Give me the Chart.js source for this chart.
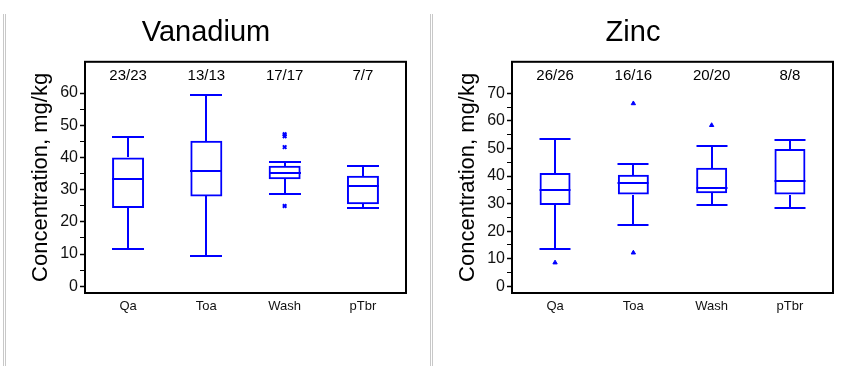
<!DOCTYPE html>
<html>
<head>
<meta charset="utf-8">
<script src="https://cdn.jsdelivr.net/npm/chart.js@4.4.1/dist/chart.umd.min.js"></script>
<style>
  html, body { margin: 0; padding: 0; background: #fff; }
  #page { position: relative; width: 855px; height: 369px; overflow: hidden; }
  .panel { position: absolute; top: 0; width: 422px; height: 369px; }
  .panel canvas { width: 422px; height: 369px; }
  .rule { position: absolute; top: 14px; height: 352px; width: 1px; background: #c8c8c8; z-index: 2; }
</style>
</head>
<body>
<div id="page">
  <div class="rule" style="left:3px"></div>
  <div class="rule" style="left:5px"></div>
  <div class="rule" style="left:430px"></div>
  <div class="rule" style="left:432px"></div>
  <div class="panel" style="left:6px"><canvas id="vanadium" width="422" height="369"></canvas></div>
  <div class="panel" style="left:433px"><canvas id="zinc" width="422" height="369"></canvas></div>
</div>
<script>
// Sample groups shared by both panels
const categories = ['Qa', 'Toa', 'Wash', 'pTbr'];

// Vanadium (mg/kg): detects / samples and box statistics
const vanadiumCounts = ['23/23', '13/13', '17/17', '7/7'];
const vanadiumLowerWhisker = [11.6, 9.4, 28.5, 24.4];
const vanadiumQ1 = [24.3, 27.9, 33.2, 25.5];
const vanadiumMedian = [33.2, 35.8, 35.3, 31.1];
const vanadiumQ3 = [40.0, 45.2, 37.4, 34.3];
const vanadiumUpperWhisker = [46.4, 59.5, 38.5, 37.4];
const vanadiumOutlierGroups = ['Wash', 'Wash', 'Wash', 'Wash'];
const vanadiumOutlierValues = [47.2, 46.6, 43.2, 24.9];
const vanadiumTickValues = [0, 5, 10, 15, 20, 25, 30, 35, 40, 45, 50, 55, 60];

// Zinc (mg/kg)
const zincCounts = ['26/26', '16/16', '20/20', '8/8'];
const zincLowerWhisker = [13.4, 22.2, 29.5, 28.4];
const zincQ1 = [29.5, 33.3, 33.8, 33.3];
const zincMedian = [35.1, 37.5, 35.7, 38.1];
const zincQ3 = [41.1, 40.5, 43.0, 49.8];
const zincUpperWhisker = [53.4, 44.2, 51.0, 53.0];
const zincOutlierGroups = ['Qa', 'Toa', 'Toa', 'Wash'];
const zincOutlierValues = [8.6, 66.3, 12.2, 58.4];
const zincTickValues = [0, 5, 10, 15, 20, 25, 30, 35, 40, 45, 50, 55, 60, 65, 70];

const FONT = "'Liberation Sans', Arial, Helvetica, sans-serif";
const BLUE = '#0000ff';
Chart.defaults.font.family = FONT;

// Whiskers, caps, medians, count labels and the plot frame
const boxWhiskers = {
  id: 'boxWhiskers',
  afterDatasetsDraw(chart, args, opts) {
    const { ctx, chartArea, scales: { x, y } } = chart;
    const half = opts.width / 2;
    ctx.save();
    ctx.strokeStyle = BLUE;
    ctx.lineWidth = 2;
    opts.lower.forEach((lo, i) => {
      const cx = Math.round(x.getPixelForValue(i));
      const px = v => Math.round(y.getPixelForValue(v));
      const pLo = px(lo), pQ1 = px(opts.q1[i]), pMed = px(opts.median[i]);
      const pQ3 = px(opts.q3[i]), pHi = px(opts.upper[i]);
      ctx.beginPath();
      ctx.moveTo(cx, pHi); ctx.lineTo(cx, pQ3);
      ctx.moveTo(cx, pQ1); ctx.lineTo(cx, pLo);
      ctx.moveTo(cx - half, pHi); ctx.lineTo(cx + half, pHi);
      ctx.moveTo(cx - half, pLo); ctx.lineTo(cx + half, pLo);
      ctx.moveTo(cx - half, pMed); ctx.lineTo(cx + half, pMed);
      ctx.stroke();
    });
    ctx.fillStyle = '#000';
    ctx.font = '15px ' + FONT;
    ctx.textAlign = 'center';
    ctx.textBaseline = 'middle';
    opts.counts.forEach((t, i) => ctx.fillText(t, x.getPixelForValue(i), chartArea.top + 14));
    ctx.strokeStyle = '#000';
    ctx.lineWidth = 2;
    ctx.strokeRect(chartArea.left, chartArea.top, chartArea.right - chartArea.left, chartArea.bottom - chartArea.top);
    ctx.restore();
  }
};

function boxPanel(canvasId, title, s) {
  const outliers = s.outlierGroups.map((g, k) => ({ x: categories.indexOf(g), y: s.outlierValues[k] }));
  return new Chart(document.getElementById(canvasId), {
    type: 'bar',
    data: {
      datasets: [
        {
          type: 'bar',
          data: categories.map((c, i) => ({ x: i, y: [s.q1[i], s.q3[i]] })),
          backgroundColor: 'rgba(0,0,0,0)',
          borderColor: BLUE,
          borderWidth: 2,
          borderSkipped: false,
          inflateAmount: 0,
          barThickness: s.width
        },
        {
          type: 'line',
          data: outliers,
          showLine: false,
          pointStyle: s.marker,
          pointRadius: s.markerRadius,
          pointBorderWidth: s.markerBorder,
          pointBorderColor: BLUE,
          pointBackgroundColor: BLUE
        }
      ]
    },
    options: {
      responsive: false,
      animation: false,
      events: [],
      layout: { padding: { left: 0, right: 22, top: 0, bottom: 0 } },
      plugins: {
        legend: { display: false },
        tooltip: { enabled: false },
        title: {
          display: true,
          text: title,
          color: '#000',
          font: { size: 29, weight: 'normal', family: FONT, lineHeight: 1.2 },
          padding: { top: 16, bottom: 11 }
        },
        boxWhiskers: {
          width: s.width, counts: s.counts,
          lower: s.lower, q1: s.q1, median: s.median, q3: s.q3, upper: s.upper
        }
      },
      scales: {
        x: {
          type: 'linear',
          offset: false,
          min: -0.55,
          max: 3.55,
          afterBuildTicks: sc => { sc.ticks = categories.map((c, i) => ({ value: i })); },
          afterFit: sc => { sc.height = 76; },
          ticks: {
            callback: v => categories[v],
            color: '#111',
            font: { size: 13 },
            padding: 6,
            autoSkip: false,
            maxRotation: 0
          },
          grid: { display: false, drawTicks: false, offset: false },
          border: { display: false }
        },
        y: {
          min: s.yMin,
          max: s.yMax,
          afterBuildTicks: sc => { sc.ticks = s.ticks.map(v => ({ value: v })); },
          afterFit: sc => { sc.width = 79; },
          ticks: {
            callback: v => (v % 10 === 0 ? String(v) : ''),
            color: '#111',
            font: { size: 16 },
            padding: 2,
            autoSkip: false
          },
          grid: {
            drawOnChartArea: false,
            drawTicks: true,
            tickLength: 5,
            tickColor: '#000',
            tickWidth: c => (c.tick && c.tick.value % 10 === 0 ? 1.5 : 1)
          },
          border: { display: false },
          title: {
            display: true,
            text: 'Concentration, mg/kg',
            color: '#000',
            font: { size: 22 },
            padding: { top: 21.5, bottom: 0 }
          }
        }
      }
    },
    plugins: [boxWhiskers]
  });
}

boxPanel('vanadium', 'Vanadium', {
  counts: vanadiumCounts, lower: vanadiumLowerWhisker, q1: vanadiumQ1, median: vanadiumMedian,
  q3: vanadiumQ3, upper: vanadiumUpperWhisker,
  outlierGroups: vanadiumOutlierGroups, outlierValues: vanadiumOutlierValues,
  ticks: vanadiumTickValues, yMin: -2.1, yMax: 69.7,
  width: 32, marker: 'crossRot', markerRadius: 2.5, markerBorder: 2
});

boxPanel('zinc', 'Zinc', {
  counts: zincCounts, lower: zincLowerWhisker, q1: zincQ1, median: zincMedian,
  q3: zincQ3, upper: zincUpperWhisker,
  outlierGroups: zincOutlierGroups, outlierValues: zincOutlierValues,
  ticks: zincTickValues, yMin: -2.4, yMax: 81.4,
  width: 31, marker: 'triangle', markerRadius: 2.5, markerBorder: 1
});
</script>
</body>
</html>
